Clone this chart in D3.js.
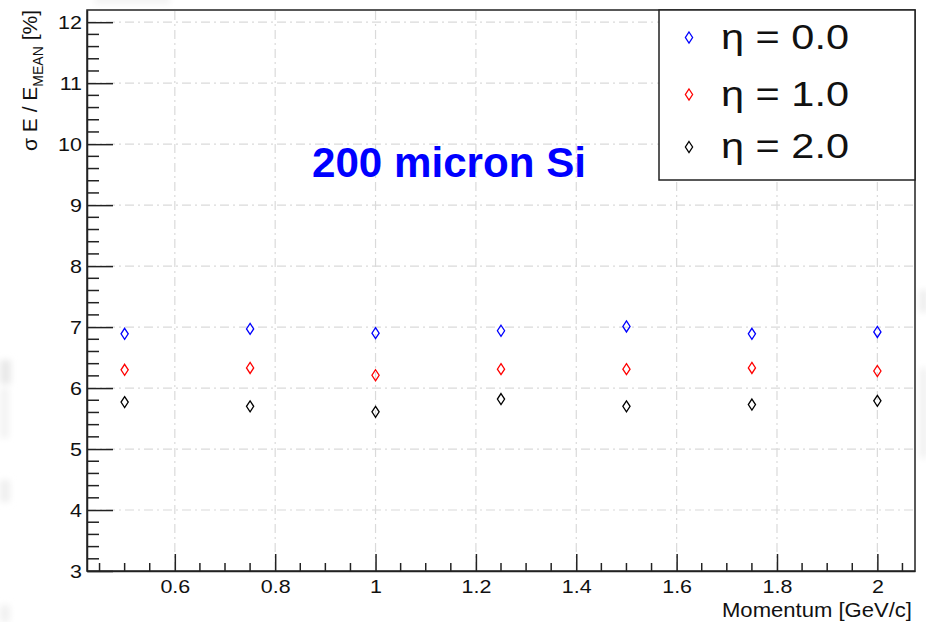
<!DOCTYPE html>
<html>
<head>
<meta charset="utf-8">
<script src="https://cdn.jsdelivr.net/npm/d3@7"></script>
<style>
  html, body { margin: 0; padding: 0; background: #fff; }
  svg { display: block; font-family: "Liberation Sans", Arial, sans-serif; }
</style>
</head>
<body>
<svg id="chart" width="926" height="622"></svg>
<script>
// Energy resolution vs. momentum for three pseudorapidities
const momentum = [0.5, 0.75, 1.0, 1.25, 1.5, 1.75, 2.0];
const resEta0 = [6.89, 6.97, 6.90, 6.94, 7.01, 6.89, 6.92];
const resEta1 = [6.30, 6.33, 6.21, 6.31, 6.31, 6.33, 6.28];
const resEta2 = [5.77, 5.70, 5.61, 5.82, 5.70, 5.73, 5.79];
const seriesNames = ["\u03b7 = 0.0", "\u03b7 = 1.0", "\u03b7 = 2.0"];
const seriesColors = ["#0000ff", "#ff0000", "#000000"];
const xTicks = [0.6, 0.8, 1.0, 1.2, 1.4, 1.6, 1.8, 2.0];
const yTicks = [3, 4, 5, 6, 7, 8, 9, 10, 11, 12];
const annotation = "200 micron Si";

const series = [resEta0, resEta1, resEta2];

const svg = d3.select("#chart");
const L = 87, R = 915, T = 10, B = 571;

const x = d3.scaleLinear().domain([0.425, 2.075]).range([L, R]);
const y = d3.scaleLinear().domain([3, 12.2]).range([B, T]);

// faint smudges along the page edges
const defs = svg.append("defs");
defs.append("filter").attr("id", "soft").attr("x", "-50%").attr("y", "-50%").attr("width", "200%").attr("height", "200%")
  .append("feGaussianBlur").attr("stdDeviation", 3);
const smudges = [
  [0, 360, 11, 24, "#e9e9e9"], [0, 388, 9, 50, "#f3f3f3"], [0, 480, 10, 22, "#efefef"],
  [0, 605, 10, 17, "#f1f1f1"], [920, 290, 7, 22, "#ebebeb"], [920, 368, 7, 90, "#f0f0f0"],
  [95, -4, 75, 8, "#f3f3f3"]
];
svg.append("g").attr("filter", "url(#soft)")
  .selectAll("rect").data(smudges).join("rect")
  .attr("x", d => d[0]).attr("y", d => d[1]).attr("width", d => d[2]).attr("height", d => d[3])
  .attr("fill", d => d[4]);

// grid
const grid = svg.append("g").attr("stroke", "#dadada").attr("stroke-width", 1.2)
  .attr("stroke-dasharray", "9,4,2,4");
grid.selectAll("line.gx").data(xTicks).join("line").attr("class", "gx")
  .attr("x1", d => x(d)).attr("x2", d => x(d)).attr("y1", B).attr("y2", T);
grid.selectAll("line.gy").data(yTicks.slice(1)).join("line").attr("class", "gy")
  .attr("y1", d => y(d)).attr("y2", d => y(d)).attr("x1", L).attr("x2", R);

// frame
svg.append("rect").attr("x", L).attr("y", T).attr("width", R - L).attr("height", B - T)
  .attr("fill", "none").attr("stroke", "#222").attr("stroke-width", 1.5);

// x axis: major ticks every 0.2, minor every 0.05, drawn inward
const xMinor = d3.range(0.45, 2.0751, 0.05).map(v => +v.toFixed(2))
  .filter(v => !xTicks.some(t => Math.abs(t - v) < 1e-6));
const xAxis = d3.axisBottom(x).tickValues(xTicks).tickFormat(d3.format("~g"))
  .tickSizeInner(-17).tickSizeOuter(0).tickPadding(9);
const gx = svg.append("g").attr("transform", `translate(0,${B})`).call(xAxis);
gx.select(".domain").attr("stroke", "#222").attr("stroke-width", 1.5);
gx.selectAll(".tick line").attr("stroke", "#222").attr("stroke-width", 1.5);
gx.selectAll(".tick text").attr("font-size", 19).attr("fill", "#111")
  .attr("font-family", "Liberation Sans, Arial, sans-serif")
  .attr("transform", "scale(1.13,1)");
svg.append("g").selectAll("line").data(xMinor).join("line")
  .attr("x1", d => x(d)).attr("x2", d => x(d)).attr("y1", B).attr("y2", B - 8)
  .attr("stroke", "#222").attr("stroke-width", 1.5);

// y axis: major ticks every 1, minor every 0.2, drawn inward
const yMinor = d3.range(3.2, 12.2, 0.2).map(v => +v.toFixed(1))
  .filter(v => !yTicks.some(t => Math.abs(t - v) < 1e-6));
const yAxis = d3.axisLeft(y).tickValues(yTicks).tickFormat(d3.format("d"))
  .tickSizeInner(-26).tickSizeOuter(0).tickPadding(5);
const gy = svg.append("g").attr("transform", `translate(${L},0)`).call(yAxis);
gy.select(".domain").attr("stroke", "#222").attr("stroke-width", 1.5);
gy.selectAll(".tick line").attr("stroke", "#222").attr("stroke-width", 1.5);
gy.selectAll(".tick text").attr("font-size", 19).attr("fill", "#111")
  .attr("font-family", "Liberation Sans, Arial, sans-serif")
  .attr("x", -5 / 1.13).attr("transform", "scale(1.13,1)");
svg.append("g").selectAll("line").data(yMinor).join("line")
  .attr("y1", d => y(d)).attr("y2", d => y(d)).attr("x1", L).attr("x2", L + 12)
  .attr("stroke", "#222").attr("stroke-width", 1.5);

// axis titles
svg.append("text").attr("x", 912).attr("y", 617).attr("text-anchor", "end")
  .attr("font-size", 20).attr("fill", "#111")
  .attr("textLength", 190).attr("lengthAdjust", "spacingAndGlyphs")
  .text("Momentum [GeV/c]");

const yt = svg.append("text").attr("transform", "translate(37,10) rotate(-90)")
  .attr("text-anchor", "end").attr("font-size", 21).attr("fill", "#111");
yt.append("tspan").text("\u03c3 E / E");
yt.append("tspan").attr("font-size", 14).attr("dy", 6).text("MEAN");
yt.append("tspan").attr("dy", -6).text(" [%]");

// data markers: open diamonds
const diamond = "M0,-5.5L3.6,0L0,5.5L-3.6,0Z";
series.forEach((vals, i) => {
  svg.append("g").selectAll("path").data(vals).join("path")
    .attr("d", diamond)
    .attr("transform", (v, j) => `translate(${x(momentum[j])},${y(v)})`)
    .attr("fill", "none").attr("stroke", seriesColors[i]).attr("stroke-width", 1.3);
});

// annotation
svg.append("text").attr("x", 312).attr("y", 177).attr("font-size", 42).attr("font-weight", "bold")
  .attr("fill", "#0000ff").attr("textLength", 274).attr("lengthAdjust", "spacingAndGlyphs")
  .text(annotation);

// legend
const lg = svg.append("g");
lg.append("rect").attr("x", 659).attr("y", 10).attr("width", 256).attr("height", 170)
  .attr("fill", "#fff").attr("stroke", "#222").attr("stroke-width", 1.5);
const rowY = [37.5, 94.5, 147];
seriesNames.forEach((name, i) => {
  lg.append("path").attr("d", diamond).attr("transform", `translate(689,${rowY[i]})`)
    .attr("fill", "none").attr("stroke", seriesColors[i]).attr("stroke-width", 1.3);
  lg.append("text").attr("x", 721).attr("y", rowY[i] + 11).attr("font-size", 35)
    .attr("fill", "#111").attr("textLength", 128).attr("lengthAdjust", "spacingAndGlyphs")
    .text(name);
});
</script>
</body>
</html>
